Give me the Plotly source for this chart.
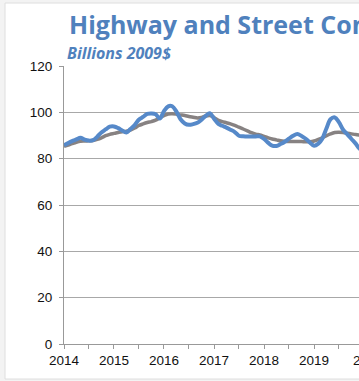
import plotly.graph_objects as go
import pandas as pd

months = pd.date_range("2014-01-01", periods=74, freq="MS").strftime("%Y-%m-%d").tolist()

spending = [
    85.8, 86.8, 87.6, 88.3, 89.0, 88.2, 87.8, 88.0, 89.5, 91.3, 92.6, 93.8,
    93.9, 93.2, 92.2, 91.3, 92.8, 94.5, 96.8, 98.0, 99.3, 99.5, 99.2, 97.3,
    100.5, 102.6, 102.6, 100.3, 97.0, 95.2, 94.6, 94.9, 95.5, 96.8, 98.5, 99.6,
    97.2, 95.0, 94.2, 93.4, 92.5, 91.5, 89.9, 89.7, 89.6, 89.6, 89.6, 89.6,
    88.5, 86.8, 85.6, 85.5, 86.3, 87.3, 88.6, 89.9, 90.6, 89.8, 88.6, 87.0,
    85.6, 86.5, 88.5, 93.0, 97.0, 97.8, 95.8, 92.5, 90.5, 88.5, 86.5, 84.2,
    83.5, 83.0,
]

trend = [
    85.3, 85.9, 86.5, 87.1, 87.5, 87.6, 87.7, 87.8, 88.3, 89.0, 89.9, 90.5,
    90.9, 91.3, 91.6, 91.8, 92.3, 93.2, 94.3, 95.0, 95.6, 96.0, 96.6, 97.6,
    98.6, 99.3, 99.4, 99.2, 98.9, 98.6, 98.2, 97.9, 97.6, 97.8, 98.4, 98.6,
    97.8, 96.5, 96.0, 95.5, 95.0, 94.4, 93.6, 92.8, 92.0, 91.2, 90.6, 90.2,
    89.6, 89.0, 88.5, 88.1, 87.7, 87.5, 87.4, 87.4, 87.4, 87.4, 87.3, 87.3,
    87.6, 88.3, 89.0, 89.9, 90.7, 91.3, 91.4, 91.3, 91.0, 90.7, 90.4, 90.2,
    90.0, 89.8,
]

title_text = "Highway and Street Construction"
subtitle_text = "Billions 2009$"
y_ticks = [0, 20, 40, 60, 80, 100, 120]

W, H = 359, 381
ML, MR, MT, MB = 64, 0, 66, 37
PW, PH = W - ML - MR, H - MT - MB

def px_x(x):
    return (x - ML) / PW

def px_y(y):
    return (H - MB - y) / PH

fig = go.Figure()
fig.add_trace(go.Scatter(x=months, y=trend, mode="lines", line=dict(color="#878282", width=3.5, shape="spline"),
                         showlegend=False, hoverinfo="skip"))
fig.add_trace(go.Scatter(x=months, y=spending, mode="lines", line=dict(color="#5689C9", width=4, shape="spline"),
                         showlegend=False, hoverinfo="skip"))

fig.update_layout(
    width=W, height=H,
    margin=dict(l=ML, r=MR, t=MT, b=MB),
    paper_bgcolor="#f3f3f3",
    plot_bgcolor="white",
    xaxis=dict(
        type="date",
        range=["2014-01-01", "2019-11-25"],
        dtick="M12", tick0="2014-01-01", tickformat="%Y",
        ticks="outside", ticklen=4, tickcolor="#999999",
        minor=dict(dtick="M6", ticks="outside", ticklen=4, tickcolor="#999999"),
        showline=True, linecolor="#999999", linewidth=1,
        showgrid=False, zeroline=False,
        tickfont=dict(family="Liberation Sans, Arial", size=13.5, color="#111111"),
    ),
    yaxis=dict(
        range=[0, 120], tickvals=y_ticks,
        ticks="outside", ticklen=4, tickcolor="#999999",
        showline=True, linecolor="#999999", linewidth=1,
        showgrid=True, gridcolor="#a8a8a8", gridwidth=1,
        zeroline=False,
        ticklabelstandoff=4,
        tickfont=dict(family="Liberation Sans, Arial", size=13.5, color="#111111"),
    ),
    shapes=[dict(type="rect", xref="paper", yref="paper",
                 x0=px_x(5), x1=px_x(420), y0=px_y(379), y1=px_y(3),
                 fillcolor="white", line=dict(color="#dedede", width=1), layer="below")],
    annotations=[
        dict(text=title_text, xref="paper", yref="paper", x=px_x(67), y=px_y(24),
             xanchor="left", yanchor="middle", showarrow=False,
             font=dict(family="Open Sans", size=25, color="#4F81BD", weight="bold")),
        dict(text=f"<i>{subtitle_text}</i>", xref="paper", yref="paper", x=px_x(65), y=px_y(53),
             xanchor="left", yanchor="middle", showarrow=False,
             font=dict(family="Open Sans", size=16, color="#4F81BD", weight="bold")),
        dict(text="2020", xref="paper", yref="paper", x=px_x(368), y=px_y(360),
             xanchor="center", yanchor="middle", showarrow=False,
             font=dict(family="Liberation Sans, Arial", size=13.5, color="#111111")),
    ],
)

fig.write_html("out.html", config={"displayModeBar": False},
               post_script="document.body.style.margin='0';document.body.style.overflow='hidden';")
